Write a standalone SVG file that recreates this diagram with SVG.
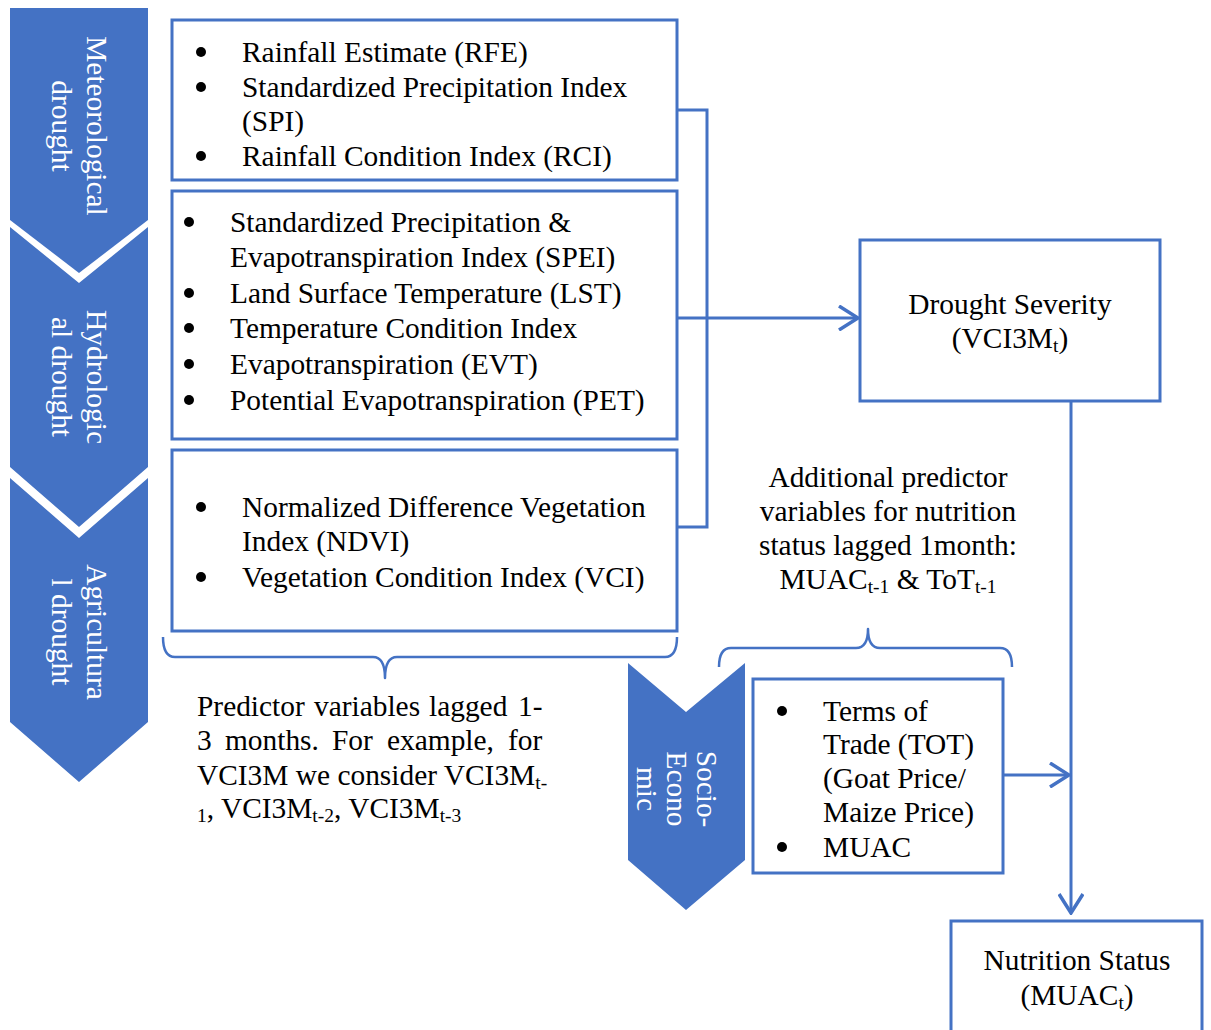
<svg xmlns="http://www.w3.org/2000/svg" width="1211" height="1030" viewBox="0 0 1211 1030">
  <style>
    text { font-family: "Liberation Serif", "Times New Roman", serif; font-size: 29.4px; fill: #000; }
    .band { fill: #4472C4; }
    .band-label { fill: #fff; text-anchor: middle; }
    .box { fill: #fff; stroke: #4472C4; stroke-width: 3; }
    .line { fill: none; stroke: #4472C4; stroke-width: 3; }
    .brace { fill: none; stroke: #4472C4; stroke-width: 2.5; stroke-linejoin: round; }
    .center { text-anchor: middle; }
    .sub { font-size: 19.5px; }
    .dot { fill: #000; }
  </style>
  <defs>
    <marker id="arrow" viewBox="0 0 22 26" refX="20" refY="13" markerWidth="22" markerHeight="26" markerUnits="userSpaceOnUse" orient="auto">
      <path d="M1,1 L20,13 L1,25" fill="none" stroke="#4472C4" stroke-width="3.5"/>
    </marker>
  </defs>

  <!-- Drought type bands (left column) -->
  <g id="band-meteorological">
    <polygon class="band" points="10,8 148,8 148,220 79,273 10,220"/>
    <text class="band-label" transform="translate(70,126) rotate(90)"><tspan x="0" y="-17">Meteorological</tspan><tspan x="0" y="18">drought</tspan></text>
  </g>
  <g id="band-hydrological">
    <polygon class="band" points="10,227 79,283 148,227 148,467 79,527 10,467"/>
    <text class="band-label" transform="translate(70,377) rotate(90)"><tspan x="0" y="-17">Hydrologic</tspan><tspan x="0" y="18">al drought</tspan></text>
  </g>
  <g id="band-agricultural">
    <polygon class="band" points="10,478 79,538 148,478 148,722 79,782 10,722"/>
    <text class="band-label" transform="translate(70,632) rotate(90)"><tspan x="0" y="-17">Agricultura</tspan><tspan x="0" y="18">l drought</tspan></text>
  </g>

  <!-- Indicator boxes -->
  <g id="box-meteorological">
    <rect class="box" x="172" y="20" width="505" height="160"/>
    <circle class="dot" cx="201" cy="52" r="5"/>
    <text x="242" y="62">Rainfall Estimate (RFE)</text>
    <circle class="dot" cx="201" cy="87" r="5"/>
    <text x="242" y="97">Standardized Precipitation Index</text>
    <text x="242" y="131">(SPI)</text>
    <circle class="dot" cx="201" cy="156" r="5"/>
    <text x="242" y="166">Rainfall Condition Index (RCI)</text>
  </g>
  <g id="box-hydrological">
    <rect class="box" x="172" y="191" width="505" height="248"/>
    <circle class="dot" cx="189" cy="222" r="5"/>
    <text x="230" y="232">Standardized Precipitation &amp;</text>
    <text x="230" y="267">Evapotranspiration Index (SPEI)</text>
    <circle class="dot" cx="189" cy="293" r="5"/>
    <text x="230" y="303">Land Surface Temperature (LST)</text>
    <circle class="dot" cx="189" cy="328" r="5"/>
    <text x="230" y="338">Temperature Condition Index</text>
    <circle class="dot" cx="189" cy="364" r="5"/>
    <text x="230" y="374">Evapotranspiration (EVT)</text>
    <circle class="dot" cx="189" cy="400" r="5"/>
    <text x="230" y="410">Potential Evapotranspiration (PET)</text>
  </g>
  <g id="box-agricultural">
    <rect class="box" x="172" y="450" width="505" height="181"/>
    <circle class="dot" cx="201" cy="507" r="5"/>
    <text x="242" y="517">Normalized Difference Vegetation</text>
    <text x="242" y="551">Index (NDVI)</text>
    <circle class="dot" cx="201" cy="577" r="5"/>
    <text x="242" y="587">Vegetation Condition Index (VCI)</text>
  </g>

  <!-- Lag note under the indicator boxes -->
  <g id="note-lagged">
    <text y="716"><tspan x="197">Predictor</tspan><tspan x="314">variables</tspan><tspan x="429">lagged</tspan><tspan x="518">1-</tspan></text>
    <text y="750"><tspan x="197">3</tspan><tspan x="225">months.</tspan><tspan x="332">For</tspan><tspan x="387">example,</tspan><tspan x="508">for</tspan></text>
    <text x="197" y="785">VCI3M we consider VCI3M<tspan class="sub" dy="4">t-</tspan></text>
    <text x="197" y="818"><tspan class="sub" dy="4">1</tspan><tspan dy="-4">, VCI3M</tspan><tspan class="sub" dy="4">t-2</tspan><tspan dy="-4">, VCI3M</tspan><tspan class="sub" dy="4">t-3</tspan></text>
  </g>

  <!-- Outcome boxes -->
  <g id="box-drought-severity">
    <rect class="box" x="860" y="240" width="300" height="161"/>
    <text class="center" x="1010" y="314">Drought Severity</text>
    <text class="center" x="1010" y="348">(VCI3M<tspan class="sub" dy="4">t</tspan><tspan dy="-4">)</tspan></text>
  </g>
  <g id="box-nutrition-status">
    <rect class="box" x="951" y="921" width="251" height="130"/>
    <text class="center" x="1077" y="970">Nutrition Status</text>
    <text class="center" x="1077" y="1005">(MUAC<tspan class="sub" dy="4">t</tspan><tspan dy="-4">)</tspan></text>
  </g>

  <!-- Additional predictors note -->
  <g id="note-additional">
    <text class="center" x="888" y="487">Additional predictor</text>
    <text class="center" x="888" y="521">variables for nutrition</text>
    <text class="center" x="888" y="555">status lagged 1month:</text>
    <text class="center" x="888" y="589">MUAC<tspan class="sub" dy="4">t-1</tspan><tspan dy="-4"> &amp; ToT</tspan><tspan class="sub" dy="4">t-1</tspan></text>
  </g>

  <!-- Socio-economic band and box -->
  <g id="band-socio-economic">
    <polygon class="band" points="628,663 686,712 745,663 745,860 686,910 628,860"/>
    <text class="band-label" transform="translate(667,789) rotate(90)"><tspan x="0" y="-30">Socio-</tspan><tspan x="0" y="0">Econo</tspan><tspan x="0" y="30">mic</tspan></text>
  </g>
  <g id="box-socio-economic">
    <rect class="box" x="753" y="679" width="250" height="194"/>
    <circle class="dot" cx="782" cy="711" r="5"/>
    <text x="823" y="721">Terms of</text>
    <text x="823" y="754">Trade (TOT)</text>
    <text x="823" y="788">(Goat Price/</text>
    <text x="823" y="822">Maize Price)</text>
    <circle class="dot" cx="782" cy="847" r="5"/>
    <text x="823" y="857">MUAC</text>
  </g>

  <!-- Connectors -->
  <g id="connectors">
    <path class="line" d="M677,110 H707 V527 H677"/>
    <path class="line" d="M677,318 H858" marker-end="url(#arrow)"/>
    <path class="line" d="M1071,401 V913" marker-end="url(#arrow)"/>
    <path class="line" d="M1003,775 H1069" marker-end="url(#arrow)"/>
    <path class="brace" d="M163,637 Q163,657 175,657 H373 Q385,657 385,678 Q385,657 397,657 H665 Q677,657 677,637"/>
    <path class="brace" d="M719,667 Q719,648 731,648 H856 Q868,648 868,629 Q868,648 880,648 H1000 Q1012,648 1012,667"/>
  </g>
</svg>
